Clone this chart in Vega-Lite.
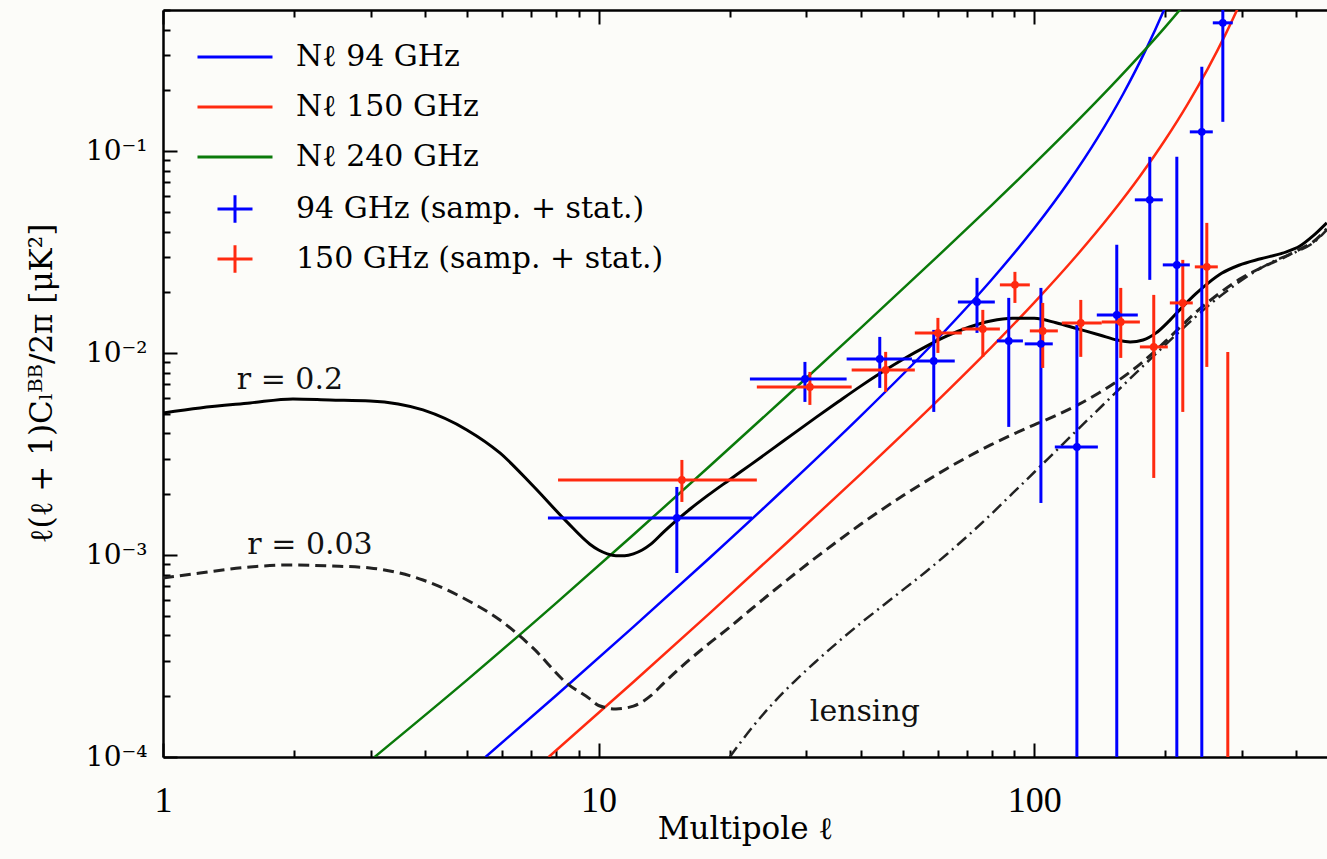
{
  "$schema": "https://vega.github.io/schema/vega-lite/v6.json",
  "width": 1164,
  "height": 747,
  "autosize": {"type": "none"},
  "padding": {"left": 163, "top": 10, "right": 0, "bottom": 102},
  "background": "#fcfcf9",
  "config": {
    "view": {"stroke": null},
    "font": "DejaVu Serif",
    "axis": {"grid": false, "domainColor": "black", "domainWidth": 2.5, "tickColor": "black", "tickWidth": 2, "labelColor": "black", "titleColor": "black", "labelFlush": false, "labelOverlap": false, "labelBound": false}
  },
  "datasets": {
    "noise": [
      {"curve": "Nℓ 94 GHz", "l": 5.5, "v": 0.0001},
      {"curve": "Nℓ 94 GHz", "l": 8, "v": 0.00020215},
      {"curve": "Nℓ 94 GHz", "l": 12, "v": 0.0004394},
      {"curve": "Nℓ 94 GHz", "l": 18, "v": 0.0009701},
      {"curve": "Nℓ 94 GHz", "l": 27, "v": 0.0021785},
      {"curve": "Nℓ 94 GHz", "l": 40, "v": 0.004887},
      {"curve": "Nℓ 94 GHz", "l": 60, "v": 0.011777},
      {"curve": "Nℓ 94 GHz", "l": 80, "v": 0.023208},
      {"curve": "Nℓ 94 GHz", "l": 100, "v": 0.041506},
      {"curve": "Nℓ 94 GHz", "l": 120, "v": 0.070575},
      {"curve": "Nℓ 94 GHz", "l": 140, "v": 0.116995},
      {"curve": "Nℓ 94 GHz", "l": 160, "v": 0.191902},
      {"curve": "Nℓ 94 GHz", "l": 180, "v": 0.314487},
      {"curve": "Nℓ 94 GHz", "l": 200, "v": 0.518336},
      {"curve": "Nℓ 94 GHz", "l": 205, "v": 0.588138},
      {"curve": "Nℓ 150 GHz", "l": 7.68, "v": 0.0001},
      {"curve": "Nℓ 150 GHz", "l": 12, "v": 0.00023458},
      {"curve": "Nℓ 150 GHz", "l": 18, "v": 0.00051579},
      {"curve": "Nℓ 150 GHz", "l": 27, "v": 0.0011477},
      {"curve": "Nℓ 150 GHz", "l": 40, "v": 0.0025249},
      {"curve": "Nℓ 150 GHz", "l": 60, "v": 0.0058184},
      {"curve": "Nℓ 150 GHz", "l": 80, "v": 0.010773},
      {"curve": "Nℓ 150 GHz", "l": 100, "v": 0.017784},
      {"curve": "Nℓ 150 GHz", "l": 125, "v": 0.030335},
      {"curve": "Nℓ 150 GHz", "l": 150, "v": 0.048673},
      {"curve": "Nℓ 150 GHz", "l": 175, "v": 0.07533},
      {"curve": "Nℓ 150 GHz", "l": 200, "v": 0.114141},
      {"curve": "Nℓ 150 GHz", "l": 225, "v": 0.170964},
      {"curve": "Nℓ 150 GHz", "l": 250, "v": 0.254845},
      {"curve": "Nℓ 150 GHz", "l": 275, "v": 0.379789},
      {"curve": "Nℓ 150 GHz", "l": 300, "v": 0.567892},
      {"curve": "Nℓ 150 GHz", "l": 305, "v": 0.615867},
      {"curve": "Nℓ 240 GHz", "l": 3.06, "v": 0.0001},
      {"curve": "Nℓ 240 GHz", "l": 5, "v": 0.00024154},
      {"curve": "Nℓ 240 GHz", "l": 8, "v": 0.00057985},
      {"curve": "Nℓ 240 GHz", "l": 12, "v": 0.001257},
      {"curve": "Nℓ 240 GHz", "l": 18, "v": 0.0027588},
      {"curve": "Nℓ 240 GHz", "l": 27, "v": 0.0061137},
      {"curve": "Nℓ 240 GHz", "l": 40, "v": 0.013334},
      {"curve": "Nℓ 240 GHz", "l": 60, "v": 0.030123},
      {"curve": "Nℓ 240 GHz", "l": 80, "v": 0.05425},
      {"curve": "Nℓ 240 GHz", "l": 100, "v": 0.086429},
      {"curve": "Nℓ 240 GHz", "l": 125, "v": 0.139465},
      {"curve": "Nℓ 240 GHz", "l": 150, "v": 0.209113},
      {"curve": "Nℓ 240 GHz", "l": 175, "v": 0.298727},
      {"curve": "Nℓ 240 GHz", "l": 200, "v": 0.412726},
      {"curve": "Nℓ 240 GHz", "l": 220, "v": 0.525258},
      {"curve": "Nℓ 240 GHz", "l": 225, "v": 0.556809}
    ],
    "r02": [
      {"l": 1.0, "v": 0.005055}, {"l": 1.216, "v": 0.005353}, {"l": 1.584, "v": 0.005665},
      {"l": 1.988, "v": 0.005934}, {"l": 2.416, "v": 0.005866}, {"l": 2.987, "v": 0.0058},
      {"l": 3.952, "v": 0.005232}, {"l": 4.985, "v": 0.004165}, {"l": 5.935, "v": 0.003203},
      {"l": 7.067, "v": 0.002203}, {"l": 8.457, "v": 0.001459}, {"l": 9.55, "v": 0.001132},
      {"l": 10.0, "v": 0.001059}, {"l": 10.47, "v": 0.001014}, {"l": 10.96, "v": 0.0009931},
      {"l": 11.48, "v": 0.0009931}, {"l": 12.02, "v": 0.001014}, {"l": 12.59, "v": 0.001059},
      {"l": 13.18, "v": 0.001132}, {"l": 14.13, "v": 0.001306}, {"l": 15.14, "v": 0.001493},
      {"l": 16.22, "v": 0.00169}, {"l": 17.78, "v": 0.001968}, {"l": 19.95, "v": 0.002355},
      {"l": 22.39, "v": 0.002812}, {"l": 25.12, "v": 0.003365}, {"l": 28.18, "v": 0.004027},
      {"l": 31.62, "v": 0.004819}, {"l": 35.48, "v": 0.005741}, {"l": 39.81, "v": 0.006823},
      {"l": 44.67, "v": 0.008035}, {"l": 50.12, "v": 0.009354}, {"l": 56.23, "v": 0.01074},
      {"l": 63.1, "v": 0.01216}, {"l": 70.79, "v": 0.01343}, {"l": 79.43, "v": 0.01442},
      {"l": 89.13, "v": 0.01489}, {"l": 100.0, "v": 0.01486}, {"l": 112.2, "v": 0.01413},
      {"l": 125.9, "v": 0.01318}, {"l": 141.3, "v": 0.0123}, {"l": 154.9, "v": 0.01161},
      {"l": 166.0, "v": 0.01135}, {"l": 177.8, "v": 0.01161}, {"l": 190.5, "v": 0.01259},
      {"l": 204.2, "v": 0.01445}, {"l": 218.8, "v": 0.0169}, {"l": 234.4, "v": 0.01959},
      {"l": 251.2, "v": 0.02228}, {"l": 269.2, "v": 0.02483}, {"l": 295.1, "v": 0.02723},
      {"l": 331.1, "v": 0.02931}, {"l": 371.5, "v": 0.03126}, {"l": 407.4, "v": 0.03388},
      {"l": 436.5, "v": 0.03802}, {"l": 469.5, "v": 0.04416}
    ],
    "r003": [
      {"l": 1.0, "v": 0.00077}, {"l": 1.216, "v": 0.0008151}, {"l": 1.584, "v": 0.0008733},
      {"l": 1.988, "v": 0.0008933}, {"l": 2.416, "v": 0.0008831}, {"l": 2.987, "v": 0.0008632},
      {"l": 3.952, "v": 0.0007525}, {"l": 4.985, "v": 0.0005991}, {"l": 5.935, "v": 0.0004771},
      {"l": 7.067, "v": 0.0003467}, {"l": 8.457, "v": 0.0002317}, {"l": 9.55, "v": 0.0001941},
      {"l": 10.0, "v": 0.0001799}, {"l": 10.96, "v": 0.000173}, {"l": 12.02, "v": 0.0001786},
      {"l": 13.18, "v": 0.0002014}, {"l": 14.13, "v": 0.000233}, {"l": 15.85, "v": 0.0002922},
      {"l": 17.78, "v": 0.0003597}, {"l": 19.95, "v": 0.0004378}, {"l": 22.39, "v": 0.000539},
      {"l": 25.12, "v": 0.000661}, {"l": 28.18, "v": 0.0008055}, {"l": 31.62, "v": 0.0009765},
      {"l": 35.48, "v": 0.001177}, {"l": 39.81, "v": 0.001412}, {"l": 44.67, "v": 0.001678},
      {"l": 50.12, "v": 0.001978}, {"l": 56.23, "v": 0.00231}, {"l": 63.1, "v": 0.002684},
      {"l": 70.79, "v": 0.003085}, {"l": 79.43, "v": 0.00351}, {"l": 89.13, "v": 0.003949},
      {"l": 100.0, "v": 0.004414}, {"l": 112.2, "v": 0.004908}, {"l": 125.9, "v": 0.005537},
      {"l": 141.3, "v": 0.006378}, {"l": 154.9, "v": 0.007242}, {"l": 166.0, "v": 0.008062},
      {"l": 177.8, "v": 0.009077}, {"l": 190.5, "v": 0.01035}, {"l": 204.2, "v": 0.01193},
      {"l": 218.8, "v": 0.01376}, {"l": 234.4, "v": 0.01585}, {"l": 251.2, "v": 0.01795},
      {"l": 269.2, "v": 0.02015}, {"l": 295.1, "v": 0.02312}, {"l": 331.1, "v": 0.0264},
      {"l": 371.5, "v": 0.02954}, {"l": 407.4, "v": 0.03274}, {"l": 436.5, "v": 0.03552},
      {"l": 469.5, "v": 0.04125}
    ],
    "lens": [
      {"l": 20.0, "v": 0.0001}, {"l": 22.39, "v": 0.000138}, {"l": 25.12, "v": 0.0001841},
      {"l": 28.18, "v": 0.0002371}, {"l": 31.62, "v": 0.0002985}, {"l": 35.48, "v": 0.0003715},
      {"l": 39.81, "v": 0.0004571}, {"l": 44.67, "v": 0.0005559}, {"l": 50.12, "v": 0.0006761},
      {"l": 56.23, "v": 0.0008222}, {"l": 63.1, "v": 0.001012}, {"l": 70.79, "v": 0.001259},
      {"l": 79.43, "v": 0.001585}, {"l": 89.13, "v": 0.002018}, {"l": 100.0, "v": 0.00257},
      {"l": 112.2, "v": 0.003281}, {"l": 125.9, "v": 0.004188}, {"l": 141.3, "v": 0.005333},
      {"l": 158.5, "v": 0.006792}, {"l": 177.8, "v": 0.00863}, {"l": 199.5, "v": 0.01094},
      {"l": 223.9, "v": 0.0138}, {"l": 251.2, "v": 0.01718}, {"l": 281.8, "v": 0.02089},
      {"l": 316.2, "v": 0.02483}, {"l": 354.8, "v": 0.02851}, {"l": 398.1, "v": 0.03162},
      {"l": 436.5, "v": 0.03508}, {"l": 469.5, "v": 0.04074}
    ],
    "bars": [
      {"band": "94 GHz (samp. + stat.)", "l": 15.12, "lo": 0.000815, "hi": 0.002174},
      {"band": "94 GHz (samp. + stat.)", "l": 29.76, "lo": 0.005732, "hi": 0.009045},
      {"band": "94 GHz (samp. + stat.)", "l": 44.2, "lo": 0.006725, "hi": 0.01203},
      {"band": "94 GHz (samp. + stat.)", "l": 58.8, "lo": 0.005114, "hi": 0.01303},
      {"band": "94 GHz (samp. + stat.)", "l": 73.9, "lo": 0.01259, "hi": 0.02358},
      {"band": "94 GHz (samp. + stat.)", "l": 87.4, "lo": 0.004311, "hi": 0.01877},
      {"band": "94 GHz (samp. + stat.)", "l": 103.6, "lo": 0.001811, "hi": 0.02103},
      {"band": "94 GHz (samp. + stat.)", "l": 125.3, "lo": 0.0001, "hi": 0.01379},
      {"band": "94 GHz (samp. + stat.)", "l": 154.7, "lo": 0.0001, "hi": 0.03435},
      {"band": "94 GHz (samp. + stat.)", "l": 184.2, "lo": 0.02305, "hi": 0.09372},
      {"band": "94 GHz (samp. + stat.)", "l": 212.5, "lo": 0.0001, "hi": 0.09372},
      {"band": "94 GHz (samp. + stat.)", "l": 242.5, "lo": 0.0001, "hi": 0.2615},
      {"band": "94 GHz (samp. + stat.)", "l": 271.0, "lo": 0.1397, "hi": 0.5},
      {"band": "150 GHz (samp. + stat.)", "l": 15.53, "lo": 0.001832, "hi": 0.002958},
      {"band": "150 GHz (samp. + stat.)", "l": 30.55, "lo": 0.005539, "hi": 0.008068},
      {"band": "150 GHz (samp. + stat.)", "l": 45.6, "lo": 0.006424, "hi": 0.01014},
      {"band": "150 GHz (samp. + stat.)", "l": 60.1, "lo": 0.01002, "hi": 0.01494},
      {"band": "150 GHz (samp. + stat.)", "l": 76.2, "lo": 0.00958, "hi": 0.01637},
      {"band": "150 GHz (samp. + stat.)", "l": 90.3, "lo": 0.01772, "hi": 0.02525},
      {"band": "150 GHz (samp. + stat.)", "l": 104.6, "lo": 0.008445, "hi": 0.01772},
      {"band": "150 GHz (samp. + stat.)", "l": 127.9, "lo": 0.00958, "hi": 0.01834},
      {"band": "150 GHz (samp. + stat.)", "l": 158.0, "lo": 0.009467, "hi": 0.02103},
      {"band": "150 GHz (samp. + stat.)", "l": 188.1, "lo": 0.002409, "hi": 0.01942},
      {"band": "150 GHz (samp. + stat.)", "l": 219.3, "lo": 0.005114, "hi": 0.02895},
      {"band": "150 GHz (samp. + stat.)", "l": 249.0, "lo": 0.008542, "hi": 0.04414},
      {"band": "150 GHz (samp. + stat.)", "l": 278.2, "lo": 0.0001, "hi": 0.01014}
    ],
    "pts": [
      {"band": "94 GHz (samp. + stat.)", "l": 15.12, "llo": 7.65, "lhi": 22.5, "v": 0.001527},
      {"band": "94 GHz (samp. + stat.)", "l": 29.76, "llo": 22.25, "lhi": 37.1, "v": 0.007452},
      {"band": "94 GHz (samp. + stat.)", "l": 44.2, "llo": 37.1, "lhi": 52.4, "v": 0.009361},
      {"band": "94 GHz (samp. + stat.)", "l": 58.8, "llo": 52.4, "lhi": 65.7, "v": 0.00915},
      {"band": "94 GHz (samp. + stat.)", "l": 73.9, "llo": 66.8, "lhi": 81.2, "v": 0.01793},
      {"band": "94 GHz (samp. + stat.)", "l": 87.4, "llo": 82.1, "lhi": 94.2, "v": 0.01149},
      {"band": "94 GHz (samp. + stat.)", "l": 103.6, "llo": 95.1, "lhi": 110.3, "v": 0.01111},
      {"band": "94 GHz (samp. + stat.)", "l": 125.3, "llo": 111.5, "lhi": 140.0, "v": 0.003431},
      {"band": "94 GHz (samp. + stat.)", "l": 154.7, "llo": 139.2, "lhi": 172.9, "v": 0.01546},
      {"band": "94 GHz (samp. + stat.)", "l": 184.2, "llo": 170.2, "lhi": 197.3, "v": 0.0574},
      {"band": "94 GHz (samp. + stat.)", "l": 212.5, "llo": 197.3, "lhi": 227.6, "v": 0.02734},
      {"band": "94 GHz (samp. + stat.)", "l": 242.5, "llo": 227.6, "lhi": 257.0, "v": 0.1246},
      {"band": "94 GHz (samp. + stat.)", "l": 271.0, "llo": 257.0, "lhi": 285.6, "v": 0.4319},
      {"band": "150 GHz (samp. + stat.)", "l": 15.53, "llo": 8.07, "lhi": 23.08, "v": 0.002355},
      {"band": "150 GHz (samp. + stat.)", "l": 30.55, "llo": 23.08, "lhi": 38.1, "v": 0.006803},
      {"band": "150 GHz (samp. + stat.)", "l": 45.6, "llo": 38.1, "lhi": 53.2, "v": 0.008254},
      {"band": "150 GHz (samp. + stat.)", "l": 60.1, "llo": 53.2, "lhi": 68.2, "v": 0.01259},
      {"band": "150 GHz (samp. + stat.)", "l": 76.2, "llo": 68.2, "lhi": 83.4, "v": 0.01318},
      {"band": "150 GHz (samp. + stat.)", "l": 90.3, "llo": 83.4, "lhi": 97.7, "v": 0.02177},
      {"band": "150 GHz (samp. + stat.)", "l": 104.6, "llo": 97.7, "lhi": 113.3, "v": 0.01288},
      {"band": "150 GHz (samp. + stat.)", "l": 127.9, "llo": 115.7, "lhi": 142.9, "v": 0.01411},
      {"band": "150 GHz (samp. + stat.)", "l": 158.0, "llo": 142.9, "lhi": 174.8, "v": 0.01427},
      {"band": "150 GHz (samp. + stat.)", "l": 188.1, "llo": 174.8, "lhi": 202.6, "v": 0.01073},
      {"band": "150 GHz (samp. + stat.)", "l": 219.3, "llo": 204.8, "lhi": 231.2, "v": 0.01772},
      {"band": "150 GHz (samp. + stat.)", "l": 249.0, "llo": 233.7, "lhi": 263.9, "v": 0.02673}
    ],
    "notes": [
      {"t": "r = 0.2", "l": 1.956, "v": 0.007368},
      {"t": "r = 0.03", "l": 2.175, "v": 0.001122},
      {"t": "lensing", "l": 40.86, "v": 0.000167}
    ]
  },
  "layer": [
    {
      "data": {"name": "noise"},
      "mark": {"type": "line", "strokeWidth": 2.5, "clip": true, "interpolate": "monotone"},
      "encoding": {
        "x": {"field": "l", "type": "quantitative", "scale": {"type": "log", "domain": [1, 470], "nice": false},
          "axis": {"orient": "bottom", "values": [1, 10, 100], "labelExpr": "format(datum.value, 'd')", "labelFont": "Liberation Serif", "labelFontSize": 36, "labelPadding": 40, "labelBaseline": "top", "tickSize": -14,
            "title": "Multipole ℓ", "titleFont": "DejaVu Serif", "titleFontSize": 31, "titleFontWeight": "normal", "titleY": 72, "titleBaseline": "middle"}},
        "y": {"field": "v", "type": "quantitative", "scale": {"type": "log", "domain": [0.0001, 0.5], "nice": false},
          "axis": {"orient": "left", "values": [0.0001, 0.001, 0.01, 0.1], "labelExpr": "datum.value < 0.0002 ? '10⁻⁴' : datum.value < 0.002 ? '10⁻³' : datum.value < 0.02 ? '10⁻²' : '10⁻¹'", "labelFont": "DejaVu Serif", "labelFontSize": 28, "labelPadding": 30, "tickSize": -14,
            "title": "ℓ(ℓ + 1)Cₗᴮᴮ/2π [μK²]", "titleFont": "DejaVu Serif", "titleFontSize": 31, "titleFontWeight": "normal", "titleX": -121, "titleY": 373, "titleAngle": -90, "titleBaseline": "middle", "titleAlign": "center"}},
        "stroke": {"field": "curve", "type": "nominal",
          "scale": {"domain": ["Nℓ 94 GHz", "Nℓ 150 GHz", "Nℓ 240 GHz"], "range": ["#0000ff", "#ff2a10", "#0a7a0a"]},
          "legend": {"orient": "none", "legendX": 57, "legendY": 32, "title": null, "symbolType": "M-3,0H3", "symbolSize": 625, "symbolStrokeWidth": 3, "labelFont": "DejaVu Serif", "labelFontSize": 30, "labelColor": "black", "labelOffset": 46, "labelLimit": 1000, "rowPadding": 20, "padding": 0}}
      }
    },
    {
      "data": {"name": "r02"},
      "mark": {"type": "line", "color": "black", "strokeWidth": 3, "clip": true, "interpolate": "monotone"},
      "encoding": {
        "x": {"field": "l", "type": "quantitative", "scale": {"type": "log", "domain": [1, 470], "nice": false},
          "axis": {"orient": "bottom", "values": [2, 3, 4, 5, 6, 7, 8, 9, 20, 30, 40, 50, 60, 70, 80, 90, 200, 300, 400], "labels": false, "title": null, "tickSize": -7, "domain": false}},
        "y": {"field": "v", "type": "quantitative", "scale": {"type": "log", "domain": [0.0001, 0.5], "nice": false},
          "axis": {"orient": "left", "values": [0.0002, 0.0003, 0.0004, 0.0005, 0.0006, 0.0007, 0.0008, 0.0009, 0.002, 0.003, 0.004, 0.005, 0.006, 0.007, 0.008, 0.009, 0.02, 0.03, 0.04, 0.05, 0.06, 0.07, 0.08, 0.09, 0.2, 0.3, 0.4, 0.5], "labels": false, "title": null, "tickSize": -7, "domain": false}}
      }
    },
    {
      "data": {"name": "r003"},
      "mark": {"type": "line", "color": "#222222", "strokeWidth": 3, "strokeDash": [11, 6], "clip": true, "interpolate": "monotone"},
      "encoding": {
        "x": {"field": "l", "type": "quantitative", "scale": {"type": "log", "domain": [1, 470], "nice": false},
          "axis": {"orient": "top", "values": [1, 10, 100], "labels": false, "title": null, "tickSize": -14}},
        "y": {"field": "v", "type": "quantitative", "scale": {"type": "log", "domain": [0.0001, 0.5], "nice": false}, "axis": null}
      }
    },
    {
      "data": {"name": "lens"},
      "mark": {"type": "line", "color": "#222222", "strokeWidth": 2.5, "strokeDash": [12, 5, 2, 5], "clip": true, "interpolate": "monotone"},
      "encoding": {
        "x": {"field": "l", "type": "quantitative", "scale": {"type": "log", "domain": [1, 470], "nice": false},
          "axis": {"orient": "top", "values": [2, 3, 4, 5, 6, 7, 8, 9, 20, 30, 40, 50, 60, 70, 80, 90, 200, 300, 400], "labels": false, "title": null, "tickSize": -7, "domain": false}},
        "y": {"field": "v", "type": "quantitative", "scale": {"type": "log", "domain": [0.0001, 0.5], "nice": false}, "axis": null}
      }
    },
    {
      "data": {"name": "bars"},
      "mark": {"type": "rule", "strokeWidth": 3, "clip": true},
      "encoding": {
        "x": {"field": "l", "type": "quantitative", "scale": {"type": "log", "domain": [1, 470], "nice": false}, "axis": null},
        "y": {"field": "lo", "type": "quantitative", "scale": {"type": "log", "domain": [0.0001, 0.5], "nice": false}, "axis": null},
        "y2": {"field": "hi"},
        "color": {"field": "band", "type": "nominal",
          "scale": {"domain": ["94 GHz (samp. + stat.)", "150 GHz (samp. + stat.)"], "range": ["#0000ff", "#ff2a10"]},
          "legend": {"orient": "none", "legendX": 57, "legendY": 184, "title": null, "symbolType": "M-1.4,0H1.4M0,-1.1V1.1", "symbolSize": 625, "symbolStrokeWidth": 3, "labelFont": "DejaVu Serif", "labelFontSize": 30, "labelColor": "black", "labelOffset": 46, "labelLimit": 1000, "rowPadding": 10, "padding": 0}}
      }
    },
    {
      "data": {"name": "pts"},
      "mark": {"type": "rule", "strokeWidth": 3, "clip": true},
      "encoding": {
        "x": {"field": "llo", "type": "quantitative", "scale": {"type": "log", "domain": [1, 470], "nice": false}, "axis": null},
        "x2": {"field": "lhi"},
        "y": {"field": "v", "type": "quantitative", "scale": {"type": "log", "domain": [0.0001, 0.5], "nice": false}, "axis": null},
        "color": {"field": "band", "type": "nominal", "legend": null}
      }
    },
    {
      "data": {"name": "pts"},
      "mark": {"type": "point", "filled": true, "size": 60, "opacity": 1, "clip": true},
      "encoding": {
        "x": {"field": "l", "type": "quantitative", "scale": {"type": "log", "domain": [1, 470], "nice": false}, "axis": null},
        "y": {"field": "v", "type": "quantitative", "scale": {"type": "log", "domain": [0.0001, 0.5], "nice": false}, "axis": null},
        "color": {"field": "band", "type": "nominal", "legend": null}
      }
    },
    {
      "data": {"name": "notes"},
      "mark": {"type": "text", "font": "DejaVu Serif", "fontSize": 30, "color": "#111111", "align": "center", "baseline": "middle"},
      "encoding": {
        "x": {"field": "l", "type": "quantitative", "scale": {"type": "log", "domain": [1, 470], "nice": false}, "axis": null},
        "y": {"field": "v", "type": "quantitative", "scale": {"type": "log", "domain": [0.0001, 0.5], "nice": false}, "axis": null},
        "text": {"field": "t"}
      }
    }
  ],
  "resolve": {"axis": {"x": "independent", "y": "independent"}}
}
